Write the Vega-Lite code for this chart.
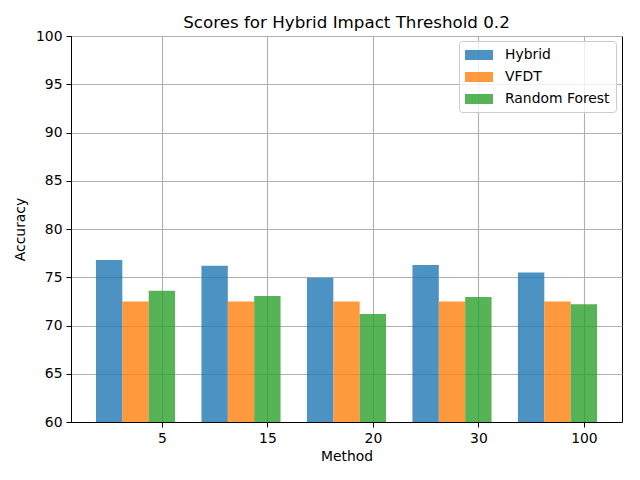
{
  "$schema": "https://vega.github.io/schema/vega-lite/v6.json",
  "autosize": "none",
  "padding": {"left": 71, "top": 36, "right": 18, "bottom": 58},
  "width": 551,
  "height": 386,
  "title": {
    "text": "Scores for Hybrid Impact Threshold 0.2",
    "fontSize": 16.7,
    "fontWeight": "normal",
    "color": "black",
    "frame": "group",
    "baseline": "alphabetic",
    "offset": -16,
    "anchor": "middle"
  },
  "data": {
    "values": [
      {"method": "5", "model": "Hybrid", "accuracy": 76.8},
      {"method": "5", "model": "VFDT", "accuracy": 72.5},
      {"method": "5", "model": "Random Forest", "accuracy": 73.6},
      {"method": "15", "model": "Hybrid", "accuracy": 76.2},
      {"method": "15", "model": "VFDT", "accuracy": 72.5},
      {"method": "15", "model": "Random Forest", "accuracy": 73.05},
      {"method": "20", "model": "Hybrid", "accuracy": 74.95},
      {"method": "20", "model": "VFDT", "accuracy": 72.5},
      {"method": "20", "model": "Random Forest", "accuracy": 71.2},
      {"method": "30", "model": "Hybrid", "accuracy": 76.27},
      {"method": "30", "model": "VFDT", "accuracy": 72.5},
      {"method": "30", "model": "Random Forest", "accuracy": 72.95},
      {"method": "100", "model": "Hybrid", "accuracy": 75.5},
      {"method": "100", "model": "VFDT", "accuracy": 72.5},
      {"method": "100", "model": "Random Forest", "accuracy": 72.2}
    ]
  },
  "mark": {"type": "bar", "opacity": 0.8, "clip": true},
  "encoding": {
    "x": {
      "field": "method",
      "type": "nominal",
      "sort": ["5", "15", "20", "30", "100"],
      "title": "Method",
      "scale": {"paddingInner": 0.25, "paddingOuter": 0.2365},
      "axis": {
        "tickOffset": 26.4,
        "labelAngle": 0,
        "grid": true,
        "titlePadding": 5
      }
    },
    "xOffset": {
      "field": "model",
      "type": "nominal",
      "sort": ["Hybrid", "VFDT", "Random Forest"],
      "scale": {"paddingInner": 0, "paddingOuter": 0}
    },
    "y": {
      "field": "accuracy",
      "type": "quantitative",
      "title": "Accuracy",
      "scale": {"domain": [60, 100], "zero": false},
      "axis": {
        "values": [60, 65, 70, 75, 80, 85, 90, 95, 100],
        "grid": true,
        "titlePadding": 8
      }
    },
    "color": {
      "field": "model",
      "type": "nominal",
      "sort": ["Hybrid", "VFDT", "Random Forest"],
      "scale": {"range": ["#1f77b4", "#ff7f0e", "#2ca02c"]},
      "legend": {
        "title": null,
        "orient": "none",
        "legendX": 388,
        "legendY": 5,
        "padding": 6,
        "symbolType": "M-2,-0.72H2V0.72H-2Z",
        "symbolSize": 196,
        "symbolOffset": 6,
        "labelOffset": 18,
        "labelFontSize": 13.9,
        "labelColor": "black",
        "rowPadding": 7,
        "fillColor": "rgba(255,255,255,0.8)",
        "strokeColor": "#cccccc",
        "cornerRadius": 3
      }
    }
  },
  "config": {
    "font": "DejaVu Sans",
    "view": {"stroke": "black", "strokeWidth": 1},
    "axis": {
      "zindex": 1,
      "domainColor": "black",
      "tickColor": "black",
      "tickSize": 5,
      "labelPadding": 4,
      "labelFontSize": 13.9,
      "labelColor": "black",
      "titleFontSize": 13.9,
      "titleFontWeight": "normal",
      "titleColor": "black",
      "gridColor": "#b0b0b0",
      "gridWidth": 1.1,
      "gridOpacity": 1
    }
  }
}
